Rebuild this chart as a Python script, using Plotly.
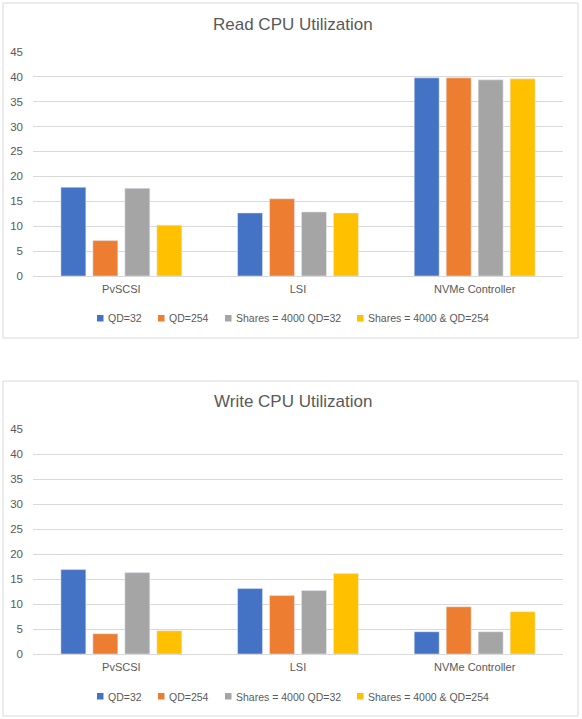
import plotly.graph_objects as go

categories = ["PvSCSI", "LSI", "NVMe Controller"]
series_names = ["QD=32", "QD=254", "Shares = 4000 QD=32", "Shares = 4000 & QD=254"]
colors = ["#4472C4", "#ED7D31", "#A5A5A5", "#FFC000"]

read_qd32 = [17.8, 12.65, 39.75]
read_qd254 = [7.1, 15.5, 39.75]
read_shares_qd32 = [17.6, 12.85, 39.35]
read_shares_qd254 = [10.2, 12.65, 39.55]

write_qd32 = [16.9, 13.1, 4.45]
write_qd254 = [4.05, 11.7, 9.45]
write_shares_qd32 = [16.3, 12.7, 4.45]
write_shares_qd254 = [4.65, 16.1, 8.45]

y_ticks = [0, 5, 10, 15, 20, 25, 30, 35, 40, 45]

read_series = [read_qd32, read_qd254, read_shares_qd32, read_shares_qd254]
write_series = [write_qd32, write_qd254, write_shares_qd32, write_shares_qd254]

W, H = 582, 719
FONT = "Liberation Sans"
TXT = "#595959"
GRID = "#D9D9D9"

fig = go.Figure()
for name, vals, col in zip(series_names, read_series, colors):
    fig.add_trace(go.Bar(x=categories, y=vals, name=name, marker_color=col,
                         xaxis="x", yaxis="y", showlegend=False))
for name, vals, col in zip(series_names, write_series, colors):
    fig.add_trace(go.Bar(x=categories, y=vals, name=name, marker_color=col,
                         xaxis="x2", yaxis="y2", showlegend=False))

def px_x(p):
    return p / W

def px_y(p):
    return 1 - p / H

x_dom = [px_x(33), px_x(563)]
axis_common = dict(range=[0, 45], tickvals=y_ticks, showgrid=True, gridcolor=GRID,
                   gridwidth=1, zeroline=False, showline=False, automargin=False,
                   tickfont=dict(family=FONT, size=11.5, color=TXT),
                   ticks="", ticklabelstandoff=9, fixedrange=True)
xaxis_common = dict(showline=True, linecolor=GRID, linewidth=1, ticks="", automargin=False,
                    tickfont=dict(family=FONT, size=11, color=TXT), ticklabelstandoff=3,
                    fixedrange=True)

annotations = []
shapes = []
# chart offsets: top chart at 0, bottom chart shifted by 378 px
titles = ["Read CPU Utilization", "Write CPU Utilization"]
offsets = [0, 378]
legend_sq = [97, 158, 225, 357]
legend_tx = [106, 167, 234, 366]
for title, off in zip(titles, offsets):
    annotations.append(dict(text=title, x=px_x(293), y=px_y(24 + off), xref="paper", yref="paper",
                            xanchor="center", yanchor="middle", showarrow=False,
                            font=dict(family=FONT, size=17, color=TXT)))
    shapes.append(dict(type="rect", xref="paper", yref="paper", x0=px_x(3), x1=px_x(578),
                       y0=px_y(338 + off), y1=px_y(3 + off), line=dict(color=GRID, width=1)))
    for name, col, sx, tx in zip(series_names, colors, legend_sq, legend_tx):
        shapes.append(dict(type="rect", xref="paper", yref="paper", x0=px_x(sx), x1=px_x(sx + 6.5),
                           y0=px_y(321.5 + off), y1=px_y(315 + off), fillcolor=col,
                           line=dict(width=0)))
        annotations.append(dict(text=name, x=px_x(tx), y=px_y(318.5 + off), xref="paper",
                                yref="paper", xanchor="left", yanchor="middle", showarrow=False,
                                font=dict(family=FONT, size=10.5, color=TXT)))

fig.update_layout(
    width=W, height=H, margin=dict(l=0, r=0, t=0, b=0, autoexpand=False),
    paper_bgcolor="white", plot_bgcolor="white", showlegend=False,
    barmode="group", bargap=0.276, bargroupgap=0.22,
    xaxis=dict(domain=x_dom, anchor="y", **xaxis_common),
    yaxis=dict(domain=[px_y(276), px_y(51.7)], anchor="x", **axis_common),
    xaxis2=dict(domain=x_dom, anchor="y2", **xaxis_common),
    yaxis2=dict(domain=[px_y(654), px_y(429.3)], anchor="x2", **axis_common),
    annotations=annotations,
    shapes=shapes,
)

fig.write_html("out.html")
